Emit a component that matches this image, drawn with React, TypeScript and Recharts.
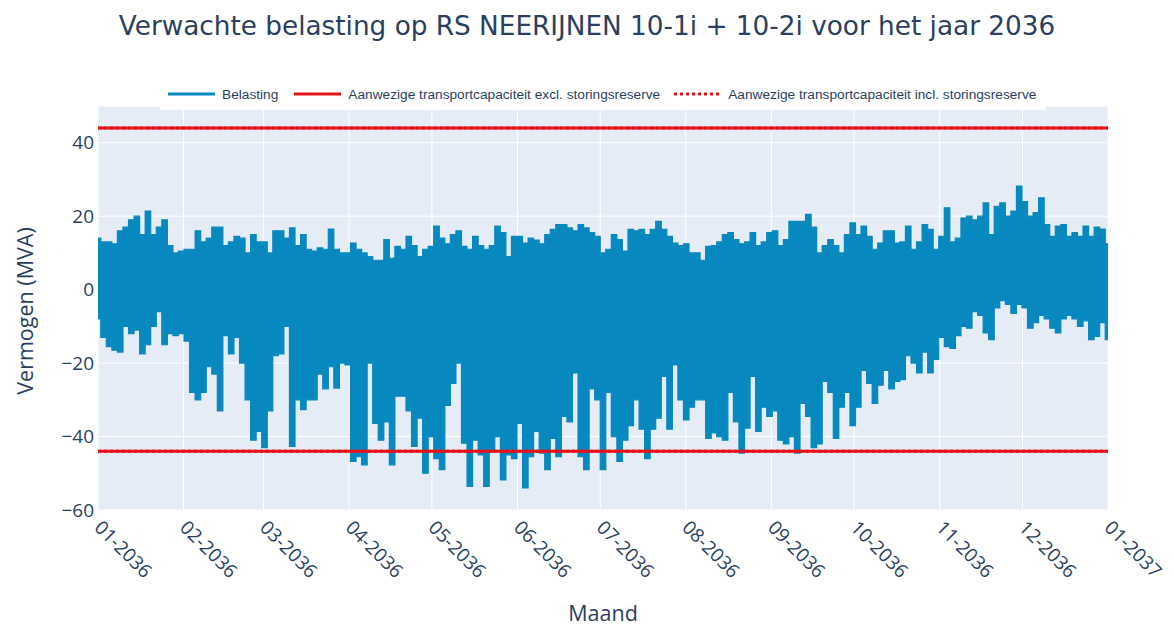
import { ComposedChart, Area, XAxis, YAxis, CartesianGrid, ReferenceLine } from 'recharts';

// belasting per blok van 2 dagen (max en min)
const hoog = [
  14, 13, 13, 12.5, 16, 17, 19, 20, 15, 21.4,
  15, 17, 19, 12, 10, 10.5, 11, 11, 16, 13,
  14, 17, 17, 12, 13, 14.5, 14, 10, 15, 13,
  13, 10, 16, 16, 14, 16.8, 12, 15, 11, 10.5,
  11.4, 11, 16.5, 11, 10, 10, 12.7, 11, 10, 9,
  8, 8, 13.6, 8.5, 11.8, 11, 14.5, 12, 9, 11,
  11.8, 17.3, 14, 12.5, 15, 16, 11.8, 11, 14.5, 12,
  11, 12, 17.3, 15.5, 9, 14.5, 14.5, 12.7, 14, 13.5,
  12.5, 15, 16.4, 17.7, 17.7, 16.8, 16, 17.7, 16.8, 15.5,
  14.5, 10, 11, 15, 13.6, 10.5, 16.4, 16, 16.4, 15,
  16.4, 18.6, 16.4, 14.5, 12.7, 12, 12.5, 10, 10, 8,
  11.8, 12, 13, 15, 15.5, 13.6, 12.5, 13, 15.5, 12,
  13, 15.5, 16, 12, 13.6, 18.6, 18.6, 18.6, 20.5, 17,
  10, 12, 13.6, 12, 10, 15, 18.2, 15, 17.3, 14.5,
  11, 12.7, 16, 16, 12.7, 13, 17.3, 11, 13, 17.7,
  16.4, 11, 14.5, 22.3, 13, 14, 19.5, 20, 19, 20,
  23.6, 15, 22.7, 23.6, 20, 21.4, 28.2, 24, 20, 21,
  25, 17.7, 14.5, 17.3, 17.7, 14.5, 15.5, 14.5, 17.3, 14.5,
  17, 16.5, 12.5,
];

const laag = [
  -8, -13, -15.5, -16.5, -17, -10, -12, -11, -17.5, -15,
  -10, -6, -15, -12, -12.5, -12, -14, -28, -30, -28,
  -21, -23, -33, -12.5, -17.5, -13, -20, -30, -41, -38.6,
  -43, -33, -18, -17.5, -10, -42.7, -30, -32.7, -30, -30,
  -23, -27, -21, -26.8, -20, -20.5, -46.8, -45.5, -47.7, -20,
  -36.4, -41, -36, -47.7, -29, -29, -33, -42.7, -35, -50,
  -40, -46, -49, -31.5, -25.5, -20, -41.8, -53.6, -41, -45,
  -53.6, -43.6, -40, -51.8, -45, -46, -36.4, -54, -45.5, -38.6,
  -44.5, -49, -40.5, -45.5, -34.5, -36, -22.7, -45.5, -49, -27,
  -30, -49, -28, -40, -46.8, -41, -37, -30, -38, -46,
  -38, -35, -23.6, -38, -20.5, -30, -35.5, -32, -30, -30,
  -40.5, -39, -40, -41, -28, -36, -44.5, -37.7, -23.6, -38.6,
  -32, -34.5, -33, -41, -42, -40, -44.5, -31, -34.5, -43,
  -42, -25, -28, -40.5, -32, -28, -37, -32, -22, -25.5,
  -31, -26, -22, -27, -25, -24.5, -18, -20, -22.7, -17,
  -22.7, -19, -13, -15.5, -16, -12.5, -10, -10.5, -6, -7,
  -11.8, -13.6, -5, -3, -4, -6.5, -4, -5, -10.5, -9,
  -7, -8, -10.5, -11.8, -8, -7, -8, -10, -8.5, -13.6,
  -12.7, -9, -13.6,
];

const capaciteitExcl = 44;
const capaciteitIncl = 44;

const maandStart = [0, 31, 60, 91, 121, 152, 182, 213, 244, 274, 305, 335, 366];
const maandLabels = ['01-2036', '02-2036', '03-2036', '04-2036', '05-2036', '06-2036', '07-2036', '08-2036', '09-2036', '10-2036', '11-2036', '12-2036', '01-2037'];
const yTicks = [-60, -40, -20, 0, 20, 40];

const DAGEN = 366;
const data = hoog.map((h, i) => ({
  dag: (i * DAGEN) / (hoog.length - 1),
  belasting: [laag[i], h],
}));

const BLAUW = '#0789bf';
const ROOD = '#e3131b';
const TEKST = '#2a3f5f';
const FONT = '"Open Sans", Verdana, sans-serif';

const XTick = ({ x, y, payload }: any) => {
  const idx = maandStart.indexOf(payload.value);
  return (
    <text
      x={x}
      y={y}
      dy="0.35em"
      transform={`rotate(45 ${x} ${y})`}
      textAnchor="start"
      fill={TEKST}
      fontSize={19}
      fontFamily={FONT}
    >
      {maandLabels[idx]}
    </text>
  );
};

const fmtY = (v: number) => (v < 0 ? '\u2212' + Math.abs(v) : String(v));

const LegendItem = ({ color, dotted, label, gap }: any) => (
  <div style={{ display: 'flex', alignItems: 'center', marginRight: gap }}>
    <svg width={47} height={6} style={{ marginRight: 7 }}>
      <line x1={0} y1={3} x2={47} y2={3} stroke={color} strokeWidth={3} strokeDasharray={dotted ? '3 3' : undefined} />
    </svg>
    <span>{label}</span>
  </div>
);

export default function App() {
  return (
    <div style={{ position: 'absolute', left: 0, top: 0, width: 1174, height: 626, background: '#fff', fontFamily: FONT }}>
      <ComposedChart width={1174} height={626} data={data} margin={{ top: 106, right: 66, bottom: 36, left: 38 }}>
        <CartesianGrid fill="#E5ECF6" stroke="#ffffff" strokeWidth={1} />
        <XAxis
          dataKey="dag"
          type="number"
          domain={[0, DAGEN]}
          ticks={maandStart}
          interval={0}
          height={80}
          axisLine={false}
          tickLine={false}
          tickSize={0}
          tickMargin={14}
          tick={<XTick />}
        />
        <YAxis
          type="number"
          domain={[-60, 50]}
          ticks={yTicks}
          width={60}
          axisLine={false}
          tickLine={false}
          tickSize={0}
          tickMargin={4}
          tickFormatter={fmtY}
          tick={{ fill: TEKST, fontSize: 19, fontFamily: FONT }}
        />
        <Area
          type="step"
          dataKey="belasting"
          stroke={BLAUW}
          strokeWidth={1.2}
          fill={BLAUW}
          fillOpacity={1}
          dot={false}
          activeDot={false}
          isAnimationActive={false}
        />
        <ReferenceLine y={capaciteitIncl} stroke={ROOD} strokeWidth={3} strokeDasharray="3 3" />
        <ReferenceLine y={-capaciteitIncl} stroke={ROOD} strokeWidth={3} strokeDasharray="3 3" />
        <ReferenceLine y={capaciteitExcl} stroke={ROOD} strokeWidth={3} />
        <ReferenceLine y={-capaciteitExcl} stroke={ROOD} strokeWidth={3} />
      </ComposedChart>

      <div style={{ position: 'absolute', left: 0, top: 8, width: 1174, textAlign: 'center', fontFamily: '"DejaVu Sans", Verdana, sans-serif', fontSize: 26.3, lineHeight: '36px', color: TEKST }}>
        Verwachte belasting op RS NEERIJNEN 10-1i + 10-2i voor het jaar 2036
      </div>

      <div
        style={{
          position: 'absolute', left: 160, top: 78, width: 878, height: 32, paddingLeft: 8,
          background: '#fff', display: 'flex', alignItems: 'center',
          fontFamily: '"Liberation Sans", Arial, sans-serif', fontSize: 13.7, color: TEKST,
        }}
      >
        <LegendItem color={BLAUW} label="Belasting" gap={16} />
        <LegendItem color={ROOD} label="Aanwezige transportcapaciteit excl. storingsreserve" gap={14} />
        <LegendItem color={ROOD} dotted label="Aanwezige transportcapaciteit incl. storingsreserve" gap={0} />
      </div>

      <div style={{ position: 'absolute', left: 24, top: 311, transform: 'translate(-50%, -50%) rotate(-90deg)', whiteSpace: 'nowrap', fontSize: 21.5, color: TEKST }}>
        Vermogen (MVA)
      </div>
      <div style={{ position: 'absolute', left: 603, top: 612, transform: 'translate(-50%, -50%)', whiteSpace: 'nowrap', fontSize: 21.5, color: TEKST }}>
        Maand
      </div>
    </div>
  );
}
